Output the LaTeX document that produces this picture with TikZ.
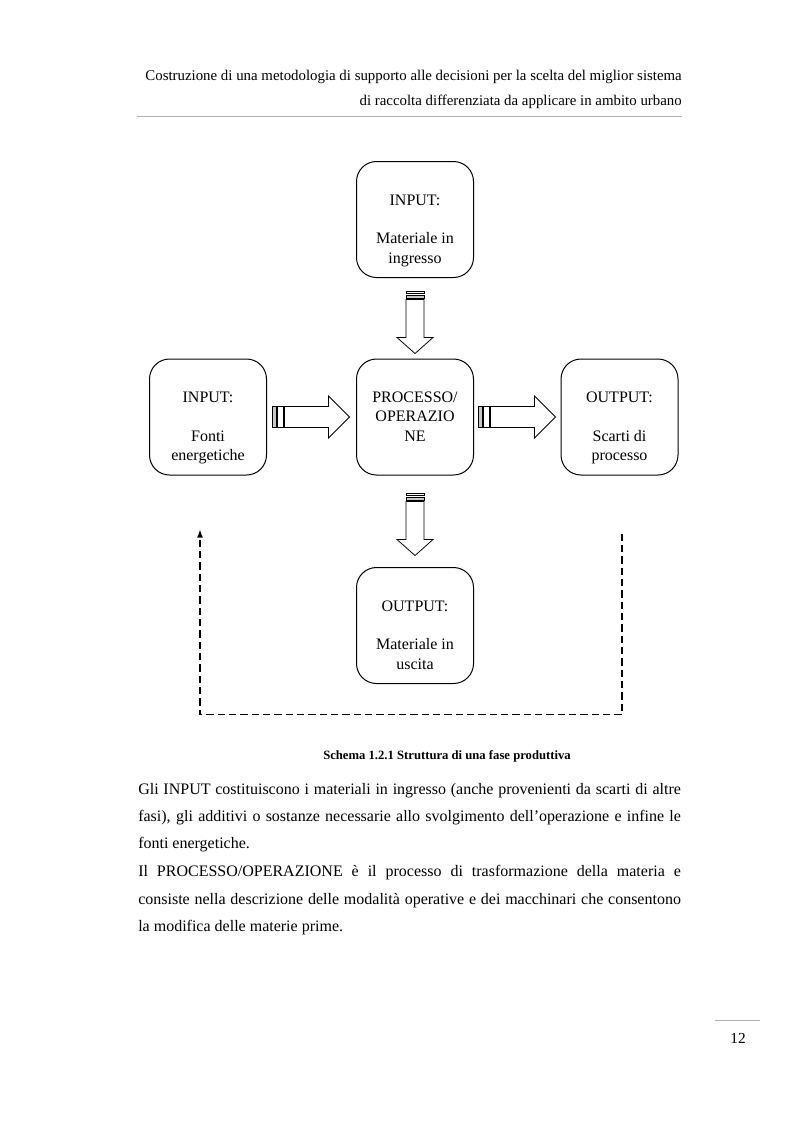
\documentclass[tikz,border=0pt]{standalone}
\usepackage{fontspec}
\setmainfont{Liberation Serif}
\usetikzlibrary{calc,arrows.meta}

\tikzset{
  procbox/.style={draw, line width=0.75pt, rounded corners=15pt,
    minimum width=87.75pt, minimum height=87pt, inner sep=0pt},
  boxtext/.style={anchor=base, inner sep=0pt, font=\fontsize{12}{14.5}\selectfont},
  stripeA/.style={draw, line width=0.6pt, fill=gray!45},
  stripeB/.style={draw, line width=0.6pt, fill=white},
  blockbody/.style={draw, line width=0.6pt, fill=white, line join=miter},
  feedback/.style={line width=1.1pt, dash pattern=on 5.5pt off 3pt, line join=miter},
  hdr/.style={font=\fontsize{11.15}{13.5}\selectfont, inner sep=0pt, anchor=base east},
  body/.style={font=\fontsize{12}{14}\selectfont, inner sep=0pt, anchor=base west},
  grayrule/.style={draw=gray!60, line width=0.6pt}
}

\newcommand\harrowat[1]{%
  \begin{scope}[shift={(#1)}]
    \draw[stripeA] (0,-10.5) rectangle (3.5,10.5);
    \draw[stripeB] (5,-10.5) rectangle (10.5,10.5);
    \draw[blockbody] (12,-10.5) -- (56,-10.5) -- (56,-21) -- (77,0) -- (56,21) -- (56,10.5) -- (12,10.5) -- cycle;
  \end{scope}}
\newcommand\varrowat[1]{%
  \begin{scope}[shift={(#1)}]
    \draw[stripeB] (-9,0) rectangle (9,2.2);
    \draw[stripeA] (-9,3.4) rectangle (9,6.8);
    \draw[blockbody] (-9,8) -- (-9,46) -- (-18,46) -- (0,62) -- (18,46) -- (9,46) -- (9,8) -- cycle;
  \end{scope}}

\begin{document}
\begin{tikzpicture}[x=0.75pt, y=-0.75pt]
  \fill[white] (0,0) rectangle (794,1122);
  \useasboundingbox (0,0) rectangle (794,1122);

  % header
  \node[hdr] (h1) at (682,80) {Costruzione di una metodologia di supporto alle decisioni per la scelta del miglior sistema};
  \node[hdr] (h2) at (682,105) {di raccolta differenziata da applicare in ambito urbano};
  \draw[grayrule] (137,116) -- (682,116);

  % boxes
  \node[procbox] (T) at (415,219.5) {};
  \node[procbox] (L) at (208,417) {};
  \node[procbox] (C) at (415,417) {};
  \node[procbox] (R) at (619.5,417) {};
  \node[procbox] (B) at (415,625.5) {};

  \node[boxtext] (Tt) at ($(T.north)+(0,44)$) {\parbox[t]{90pt}{\centering INPUT:\\[14.5pt]Materiale in\\ingresso}};
  \node[boxtext] (Lt) at ($(L.north)+(0,44)$) {\parbox[t]{90pt}{\centering INPUT:\\[14.5pt]Fonti\\energetiche}};
  \node[boxtext] (Ct) at ($(C.north)+(0,44)$) {\parbox[t]{90pt}{\centering PROCESSO/\\OPERAZIO\\NE}};
  \node[boxtext] (Rt) at ($(R.north)+(0,44)$) {\parbox[t]{90pt}{\centering OUTPUT:\\[14.5pt]Scarti di\\processo}};
  \node[boxtext] (Bt) at ($(B.north)+(0,44)$) {\parbox[t]{90pt}{\centering OUTPUT:\\[14.5pt]Materiale in\\uscita}};

  % block arrows
  \varrowat{$(T.south)+(0,13.5)$}
  \varrowat{$(C.south)+(0,18)$}
  \harrowat{$(L.east)+(5.5,0)$}
  \harrowat{$(C.east)+(4.5,0)$}

  % feedback dashed line
  \coordinate (fbA) at ($(R.south)+(2.5,58)$);
  \coordinate (fbB) at ($(R.south)+(2.5,239)$);
  \coordinate (fbC) at ($(L.south)+(-8,239)$);
  \coordinate (fbD) at ($(L.south)+(-8,54)$);
  \draw[feedback, -{Latex[length=6pt,width=4.5pt]}] (fbA) -- (fbB) -- (fbC) -- (fbD);

  % caption
  \node[font=\fontsize{9.5}{11}\selectfont\bfseries, anchor=base, inner sep=0pt] (cap) at (447,759) {Schema 1.2.1 Struttura di una fase produttiva};

  % body text
  \node[body] (p1) at (138,794) {\makebox[407pt][s]{Gli INPUT costituiscono i materiali in ingresso (anche provenienti da scarti di altre}};
  \node[body] (p2) at (138,821) {\makebox[407pt][s]{fasi), gli additivi o sostanze necessarie allo svolgimento dell’operazione e infine le}};
  \node[body] (p3) at (138,848) {fonti energetiche.};
  \node[body] (p4) at (138,876) {\makebox[407pt][s]{Il PROCESSO/OPERAZIONE è il processo di trasformazione della materia e}};
  \node[body] (p5) at (138,904) {\makebox[407pt][s]{consiste nella descrizione delle modalità operative e dei macchinari che consentono}};
  \node[body] (p6) at (138,931) {la modifica delle materie prime.};

  % page number
  \draw[grayrule] (715,1020) -- (760,1020);
  \node[anchor=base, font=\fontsize{11.5}{13}\selectfont, inner sep=0pt] (pg) at (738,1043) {12};
\end{tikzpicture}
\end{document}
